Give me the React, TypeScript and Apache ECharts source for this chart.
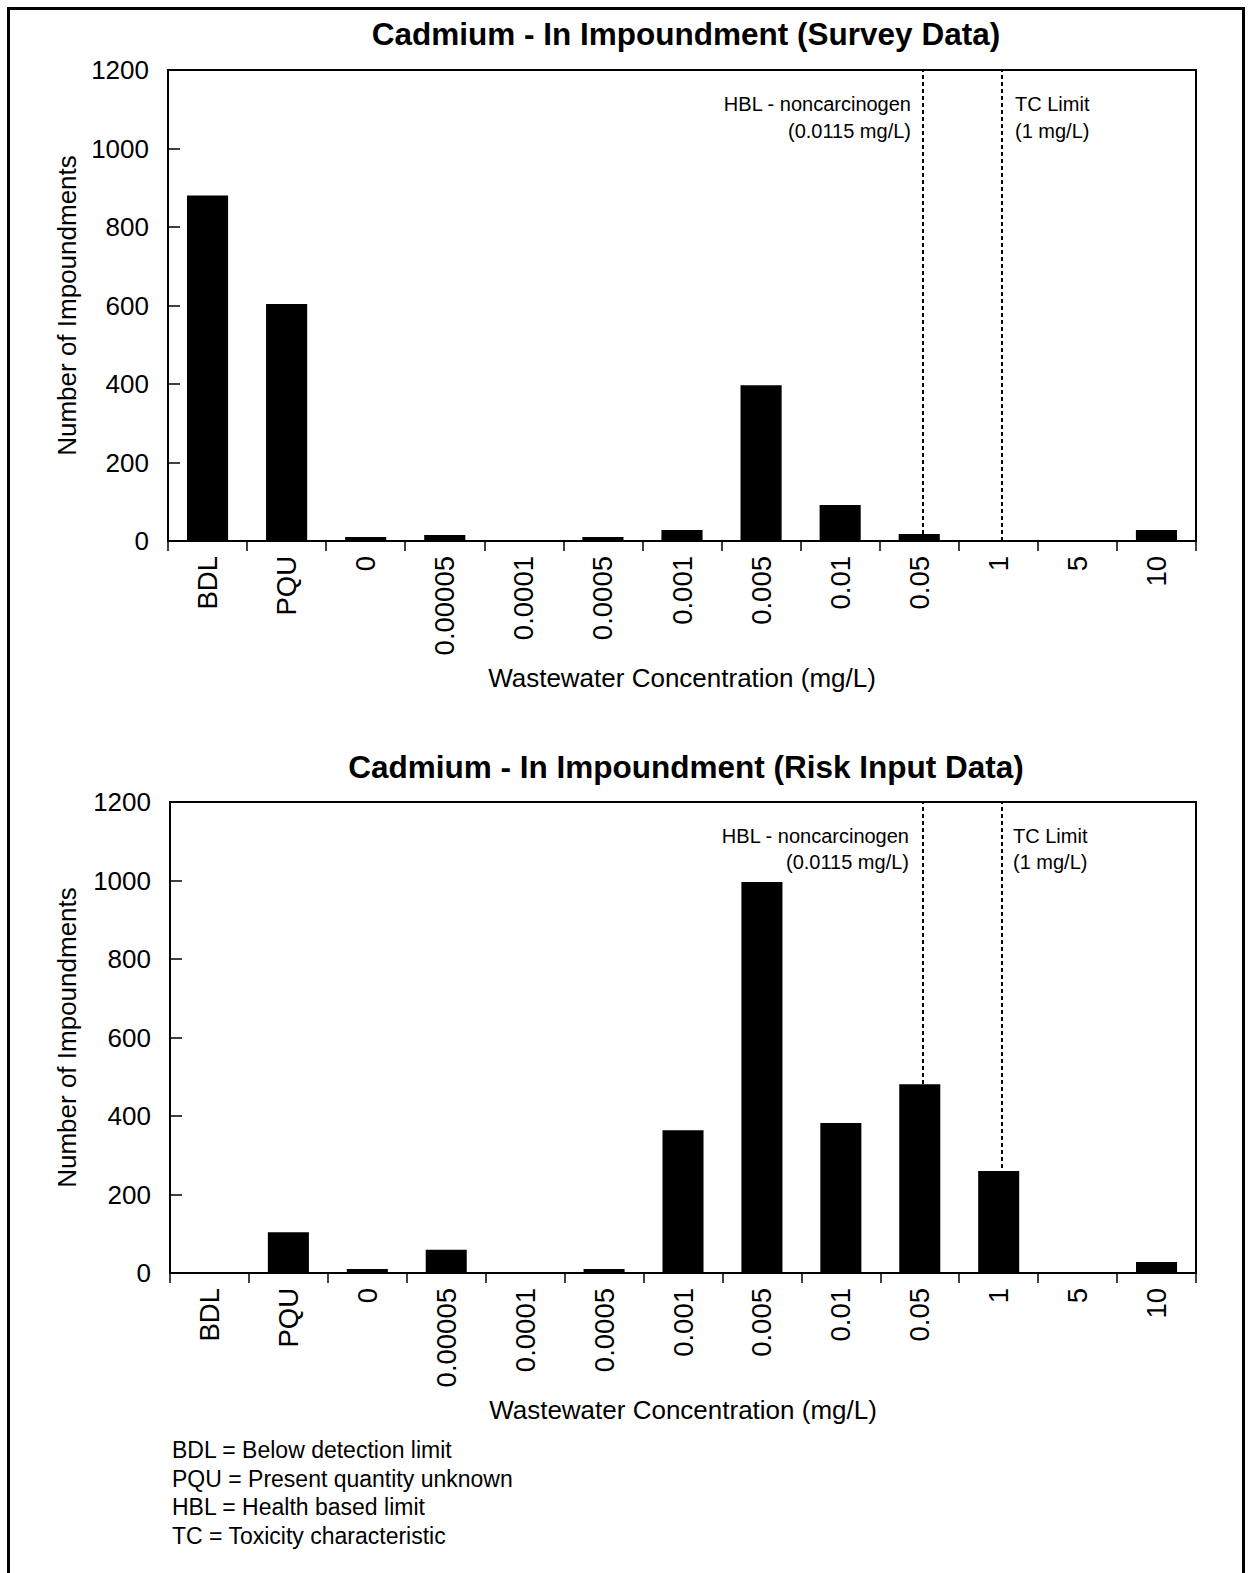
import React, { useEffect, useRef } from "react";
import * as echarts from "echarts";

const categories = ["BDL", "PQU", "0", "0.00005", "0.0001", "0.0005", "0.001", "0.005", "0.01", "0.05", "1", "5", "10"];
const surveyCounts = [880, 604, 10, 15, 0, 10, 28, 397, 92, 18, 0, 0, 28];
const riskCounts = [0, 104, 10, 59, 0, 10, 364, 996, 382, 481, 260, 0, 28];
const yTicks = { min: 0, max: 1200, interval: 200 };
// reference-line positions in category units (0..13 across the axis)
const hblPosition = 9.54;
const tcPosition = 10.54;
const hblLabel = ["HBL - noncarcinogen", "(0.0115 mg/L)"];
const tcLabel = ["TC Limit", "(1 mg/L)"];
const titles = ["Cadmium - In Impoundment (Survey Data)", "Cadmium - In Impoundment (Risk Input Data)"];
const footnotes = [
  "BDL = Below detection limit",
  "PQU = Present quantity unknown",
  "HBL = Health based limit",
  "TC = Toxicity characteristic",
];

const FONT = "'Liberation Sans', Arial, Helvetica, sans-serif";

export default function App() {
  const ref = useRef<HTMLDivElement>(null);
  useEffect(() => {
    if (!ref.current) return;
    const chart = echarts.init(ref.current, null, { renderer: "svg" });
    const grids = [
      { left: 168, top: 70, width: 1028, height: 471 },
      { left: 170, top: 802, width: 1026, height: 471 },
    ];
    const catAxis = (gi: number) => ({
      type: "category",
      gridIndex: gi,
      data: categories,
      boundaryGap: true,
      axisLine: { lineStyle: { color: "#000", width: 2 } },
      axisTick: { show: true, inside: false, length: 10, lineStyle: { color: "#000", width: 1.5 } },
      axisLabel: { interval: 0, rotate: 90, fontSize: 27.5, color: "#000", fontFamily: FONT, margin: 15 },
      name: "Wastewater Concentration (mg/L)",
      nameLocation: "middle",
      nameGap: 124,
      nameTextStyle: { fontSize: 26, color: "#000", fontFamily: FONT },
    });
    const valAxis = (gi: number, gap: number) => ({
      type: "value",
      gridIndex: gi,
      min: yTicks.min,
      max: yTicks.max,
      interval: yTicks.interval,
      splitLine: { show: false },
      axisLine: { show: true, lineStyle: { color: "#000", width: 2 } },
      axisTick: { show: true, inside: true, length: 12, lineStyle: { color: "#000", width: 1.5 } },
      axisLabel: { fontSize: 26, color: "#000", fontFamily: FONT, margin: 19, formatter: (v: number) => String(v) },
      name: "Number of Impoundments",
      nameLocation: "middle",
      nameGap: gap,
      nameTextStyle: { fontSize: 26, color: "#000", fontFamily: FONT },
    });
    const hiddenAxis = (gi: number) => ({
      type: "value",
      gridIndex: gi,
      min: 0,
      max: categories.length,
      show: false,
    });
    const refLines = (xi: number, yi: number) => ({
      type: "line",
      xAxisIndex: xi,
      yAxisIndex: yi,
      data: [],
      silent: true,
      markLine: {
        silent: true,
        symbol: ["none", "none"],
        label: { show: false },
        lineStyle: { color: "#000", type: [4, 3], width: 2 },
        data: [{ xAxis: hblPosition }, { xAxis: tcPosition }],
      },
    });
    const textEl = (x: number, y: number, text: string, size: number, align: string, bold = false) => ({
      type: "text",
      x,
      y,
      style: {
        text,
        fontSize: size,
        fontFamily: FONT,
        fontWeight: bold ? "bold" : "normal",
        fill: "#000",
        align,
        verticalAlign: "middle",
      },
    });
    const graphics: any[] = [
      { type: "rect", shape: { x: 8.5, y: 8.5, width: 1235, height: 1572 }, style: { fill: "none", stroke: "#000", lineWidth: 3 } },
      textEl(686, 34, titles[0], 31.5, "center", true),
      textEl(686, 767, titles[1], 31.5, "center", true),
      textEl(911, 104, hblLabel[0], 20, "right"),
      textEl(911, 131, hblLabel[1], 20, "right"),
      textEl(1015, 104, tcLabel[0], 20, "left"),
      textEl(1015, 131, tcLabel[1], 20, "left"),
      textEl(909, 836, hblLabel[0], 20, "right"),
      textEl(909, 862, hblLabel[1], 20, "right"),
      textEl(1013, 836, tcLabel[0], 20, "left"),
      textEl(1013, 862, tcLabel[1], 20, "left"),
    ];
    footnotes.forEach((f, i) => graphics.push(textEl(172, 1450 + i * 28.5, f, 23, "left")));

    chart.setOption({
      animation: false,
      backgroundColor: "#fff",
      grid: grids.map((g) => ({ ...g, show: true, borderColor: "#000", borderWidth: 2, backgroundColor: "transparent" })),
      xAxis: [catAxis(0), catAxis(1), hiddenAxis(0), hiddenAxis(1)],
      yAxis: [valAxis(0, 88), valAxis(1, 90)],
      series: [
        {
          type: "bar",
          xAxisIndex: 0,
          yAxisIndex: 0,
          data: surveyCounts,
          barWidth: "52%",
          itemStyle: { color: "#000" },
        },
        {
          type: "bar",
          xAxisIndex: 1,
          yAxisIndex: 1,
          data: riskCounts,
          barWidth: "52%",
          itemStyle: { color: "#000" },
        },
        refLines(2, 0),
        refLines(3, 1),
      ],
      graphic: graphics,
    });
    return () => chart.dispose();
  }, []);
  return (
    <div style={{ position: "absolute", left: 0, top: 0, width: 1250, height: 1573, background: "#fff" }}>
      <div ref={ref} style={{ width: 1250, height: 1573 }} />
    </div>
  );
}
